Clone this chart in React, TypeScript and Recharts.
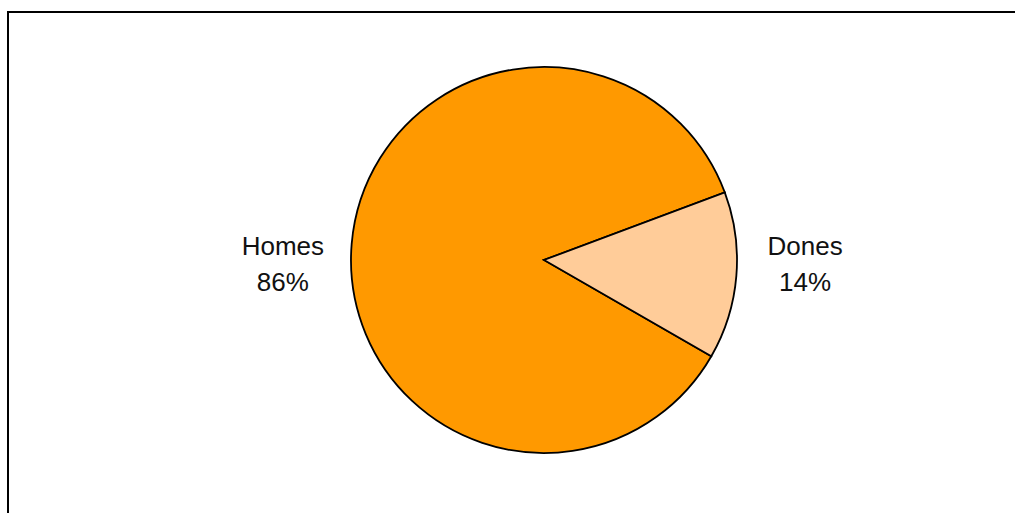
import { PieChart, Pie, Cell } from 'recharts';

const categories = ['Homes', 'Dones'];
const shares = [86, 14];
const sliceColors = ['#FF9900', '#FFCC99'];

const data = categories.map((name, i) => ({ name, value: shares[i] }));

const RADIAN = Math.PI / 180;

function renderLabel(props: any) {
  const { cx, cy, midAngle, outerRadius, name, value } = props;
  const r = outerRadius + 69;
  const x = cx + r * Math.cos(-midAngle * RADIAN);
  const y = cy + 4;
  return (
    <text
      x={x}
      y={y}
      textAnchor="middle"
      fill="#111"
      fontSize={26}
      fontFamily="'Liberation Sans', Arial, sans-serif"
    >
      <tspan x={x} dy={-9}>{name}</tspan>
      <tspan x={x} dy={36}>{`${value}%`}</tspan>
    </text>
  );
}

export default function App() {
  return (
    <div
      style={{
        position: 'fixed',
        left: 0,
        top: 0,
        width: 1015,
        height: 513,
        overflow: 'hidden',
        background: '#fff',
      }}
    >
      <div
        style={{
          position: 'absolute',
          left: 7,
          top: 11,
          width: 1100,
          height: 600,
          border: '2px solid #000',
        }}
      />
      <div style={{ position: 'absolute', left: 0, top: 0 }}>
        <PieChart width={1015} height={513} margin={{ top: 0, right: 0, bottom: 0, left: 0 }}>
          <Pie
            data={data}
            dataKey="value"
            nameKey="name"
            cx={544}
            cy={260}
            outerRadius={193}
            startAngle={20.5}
            endAngle={380.5}
            stroke="#000"
            strokeWidth={1.8}
            label={renderLabel}
            labelLine={false}
            isAnimationActive={false}
          >
            {data.map((d, i) => (
              <Cell key={d.name} fill={sliceColors[i]} />
            ))}
          </Pie>
        </PieChart>
      </div>
    </div>
  );
}
